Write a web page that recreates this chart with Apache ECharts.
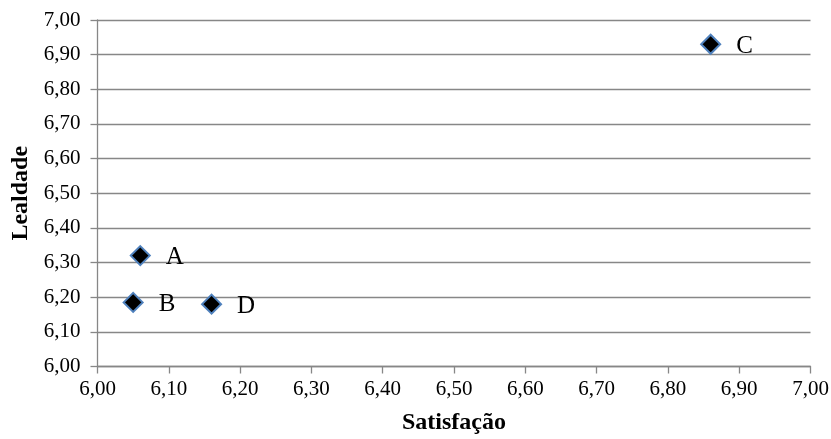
<!DOCTYPE html>
<html><head><meta charset="utf-8">
<script src="https://cdn.jsdelivr.net/npm/echarts@6/dist/echarts.min.js"></script>
<style>html,body{margin:0;padding:0;background:#fff}#c{width:831px;height:439px}</style>
</head><body><div id="c"></div>
<script>
const names = ['A', 'B', 'C', 'D'];
const satisfacao = [6.06, 6.05, 6.86, 6.16];
const lealdade = [6.32, 6.185, 6.93, 6.18];
const xTitle = 'Satisfação';
const yTitle = 'Lealdade';

const chart = echarts.init(document.getElementById('c'));
const font = '"Liberation Serif", "Times New Roman", serif';
const fmt = v => v.toFixed(2).replace('.', ',');
chart.setOption({
  animation: false,
  grid: {left: 97.5, right: 20.5, top: 20, bottom: 72.5, containLabel: false, outerBoundsMode: 'none'},
  xAxis: {
    type: 'value', min: 6, max: 7, interval: 0.1,
    name: xTitle, nameLocation: 'middle', nameGap: 44,
    nameTextStyle: {fontFamily: font, fontWeight: 'bold', fontSize: 24, color: '#000'},
    axisLine: {show: true, lineStyle: {color: '#878787', width: 1.3}},
    axisTick: {show: true, length: 7, lineStyle: {color: '#878787', width: 1.3}},
    axisLabel: {formatter: fmt, fontFamily: font, fontSize: 21, color: '#000', margin: 12},
    splitLine: {show: false}
  },
  yAxis: {
    type: 'value', min: 6, max: 7, interval: 0.1,
    name: yTitle, nameLocation: 'middle', nameGap: 65, nameRotate: 90,
    nameTextStyle: {fontFamily: font, fontWeight: 'bold', fontSize: 24, color: '#000'},
    axisLine: {show: true, lineStyle: {color: '#878787', width: 1.3}},
    axisTick: {show: true, length: 7, lineStyle: {color: '#878787', width: 1.3}},
    axisLabel: {formatter: fmt, fontFamily: font, fontSize: 21, color: '#000', margin: 17},
    splitLine: {show: true, lineStyle: {color: '#878787', width: 1.3}}
  },
  series: [{
    type: 'scatter',
    symbol: 'diamond',
    symbolSize: 19,
    itemStyle: {color: '#000', opacity: 1, borderColor: '#4F81BD', borderWidth: 2},
    label: {show: true, position: 'right', distance: 15, formatter: p => p.data[2],
      fontFamily: font, fontSize: 25, color: '#000', offset: [0, 2]},
    data: names.map((n, i) => [satisfacao[i], lealdade[i], n])
  }]
});
</script></body></html>
